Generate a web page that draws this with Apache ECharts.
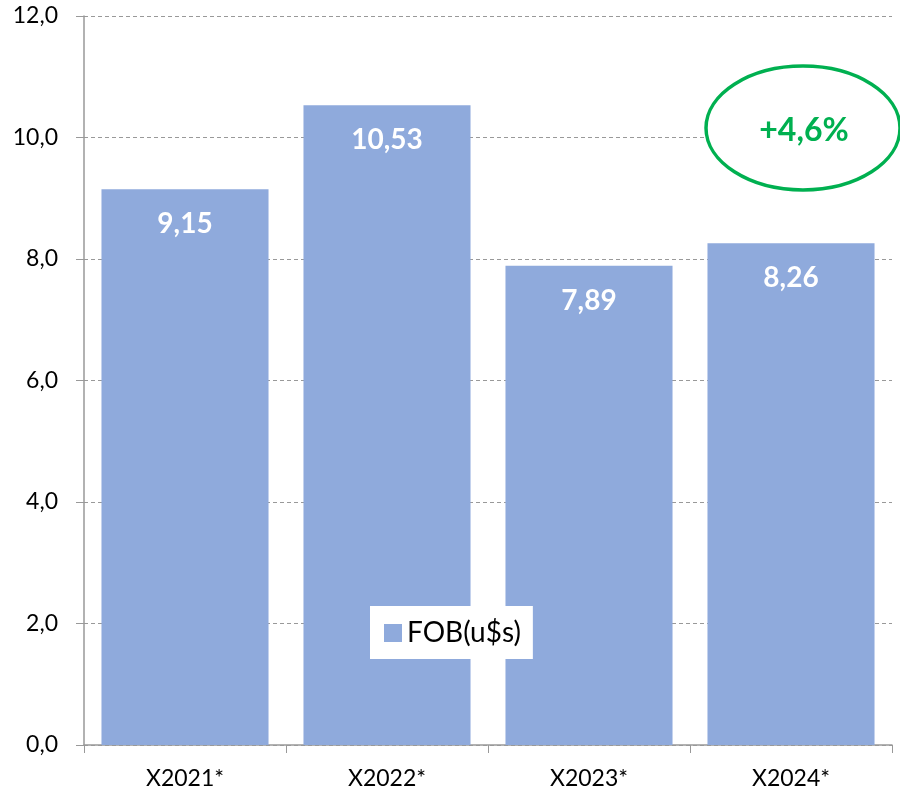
<!DOCTYPE html>
<html><head><meta charset="utf-8">
<script src="https://cdn.jsdelivr.net/npm/echarts@6/dist/echarts.min.js"></script>
<style>html,body{margin:0;padding:0;background:#fff}#c{width:900px;height:793px}</style>
</head><body><div id="c"></div>
<script>
const categories = ['X2021*', 'X2022*', 'X2023*', 'X2024*'];
const fobValues = [9.15, 10.53, 7.89, 8.26];
const seriesName = 'FOB(u$s)';
const changeLabel = '+4,6%';
const yMin = 0, yMax = 12, yStep = 2;

const font = 'Lato, "Open Sans", sans-serif';
const chart = echarts.init(document.getElementById('c'));
chart.setOption({
  animation: false,
  grid: {left: 84, right: 8, top: 16, bottom: 48},
  legend: {
    data: [seriesName], left: 370, top: 606, padding: [13, 12, 12, 14],
    backgroundColor: '#fff', itemWidth: 18, itemHeight: 18, itemGap: 10,
    icon: 'rect',
    textStyle: {fontFamily: font, fontSize: 28, color: '#000'}
  },
  xAxis: {
    type: 'category', data: categories,
    axisLine: {lineStyle: {color: '#999', width: 1.5}},
    axisTick: {show: true, length: 8, lineStyle: {color: '#999'}},
    axisLabel: {fontFamily: font, fontSize: 23, color: '#000', margin: 22}
  },
  yAxis: {
    type: 'value', min: yMin, max: yMax, interval: yStep,
    axisLine: {show: true, lineStyle: {color: '#999', width: 1.5}},
    axisTick: {show: true, length: 8, lineStyle: {color: '#999'}},
    axisLabel: {fontFamily: font, fontSize: 23, color: '#000', margin: 26,
      formatter: v => v.toFixed(1).replace('.', ',')},
    splitLine: {lineStyle: {color: '#999', type: [4, 3]}}
  },
  series: [{
    name: seriesName, type: 'bar', data: fobValues,
    barCategoryGap: '17.3%',
    itemStyle: {color: '#8FAADC'},
    label: {show: true, position: 'insideTop', distance: 21,
      fontFamily: font, fontSize: 28, fontWeight: 'bold', color: '#fff',
      formatter: p => p.value.toFixed(2).replace('.', ',')}
  }],
  graphic: [
    {type: 'ellipse', shape: {cx: 803, cy: 128, rx: 97, ry: 62},
     style: {fill: '#fff', stroke: '#00B050', lineWidth: 3.5}, z: 100},
    {type: 'text', x: 804, y: 131, z: 101,
     style: {text: changeLabel, fill: '#00B050', font: 'bold 32px ' + font,
       align: 'center', verticalAlign: 'middle'}}
  ]
});
</script></body></html>
